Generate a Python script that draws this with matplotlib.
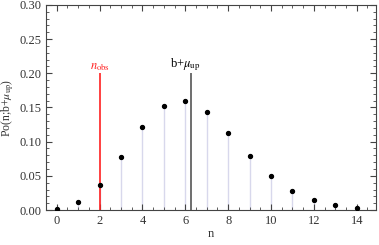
import matplotlib
matplotlib.use("Agg")
import matplotlib.pyplot as plt
from matplotlib.ticker import MultipleLocator, FormatStrFormatter

n_vals = [0, 1, 2, 3, 4, 5, 6, 7, 8, 9, 10, 11, 12, 13, 14]
po_vals = [0.002, 0.012, 0.036, 0.077, 0.121, 0.152, 0.160, 0.144,
           0.113, 0.079, 0.050, 0.028, 0.015, 0.007, 0.003]
n_obs = 2
b_mu_up = 6.25
marker_height = 0.2

plt.rcParams["font.family"] = ["Liberation Serif", "DejaVu Serif"]
plt.rcParams["mathtext.fontset"] = "stix"

fig = plt.figure(figsize=(3.79, 2.45), dpi=100)
ax = fig.add_axes([46 / 379, 35 / 245, 330 / 379, 205 / 245])

ax.vlines(n_vals, 0, po_vals, color="#d8d8ec", lw=1.0, zorder=1)
ax.vlines(n_obs, 0, marker_height, color="#ff2020", lw=1.2, zorder=2)
ax.vlines(b_mu_up, 0, marker_height, color="#555555", lw=1.2, zorder=2)
ax.scatter(n_vals, po_vals, s=8, color="black", zorder=3)

ax.text(n_obs, marker_height, r"$n_{\rm obs}$", color="#ff2020",
        ha="center", va="bottom", fontsize=9)
ax.text(b_mu_up - 0.25, marker_height, r"b+$\mu_{\rm up}$", color="black",
        ha="center", va="bottom", fontsize=9)

ax.set_xlim(-0.5, 14.9)
ax.set_ylim(0, 0.30)
ax.xaxis.set_major_locator(MultipleLocator(2))
ax.xaxis.set_minor_locator(MultipleLocator(0.5))
ax.yaxis.set_major_locator(MultipleLocator(0.05))
ax.yaxis.set_minor_locator(MultipleLocator(0.01))
ax.yaxis.set_major_formatter(FormatStrFormatter("%.2f"))
ax.tick_params(which="both", direction="in", top=True, right=True,
               labelsize=9, colors="#444444", labelcolor="#333333")
ax.tick_params(which="major", length=4, width=0.8)
ax.tick_params(which="minor", length=2, width=0.6)
for s in ax.spines.values():
    s.set_color("#444444")
    s.set_linewidth(0.8)

ax.set_xlabel("n", fontsize=9, color="#333333", labelpad=1)
ax.set_ylabel(r"Po(n;b+$\mu_{\rm up}$)", fontsize=8.5, color="#333333", labelpad=2)

fig.savefig("out.png", dpi=100)
